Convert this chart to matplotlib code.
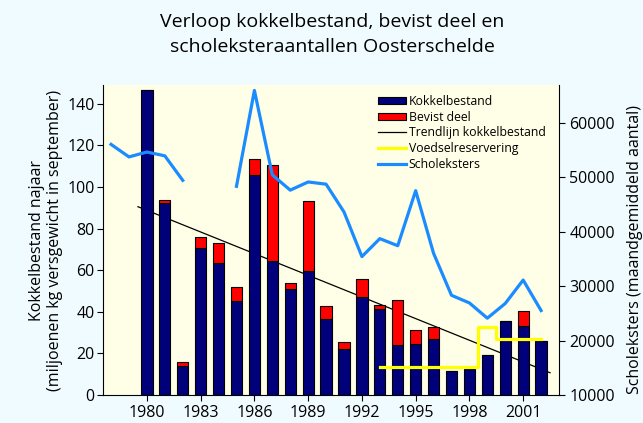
import matplotlib
matplotlib.use("Agg")
import matplotlib.pyplot as plt
from matplotlib.patches import Patch
from matplotlib.lines import Line2D

plt.rcParams['font.family'] = ['Open Sans', 'DejaVu Sans']

years = list(range(1980, 2003))
kokkel = [146.6, 92.2, 14.1, 70.5, 63.5, 45.2, 105.8, 64.4, 51.0, 59.5, 36.5, 22.3,
          47.1, 41.2, 24.0, 24.5, 26.9, 11.5, 12.3, 19.2, 35.7, 33.2, 26.0]
bevist = [0.0, 1.6, 1.8, 5.3, 9.7, 6.7, 7.7, 46.2, 2.7, 33.9, 6.1, 3.0,
          8.5, 2.1, 21.8, 6.6, 5.6, 0.0, 0.0, 0.0, 0.0, 7.2, 0.0]

trend_years = [1979.5, 2002.5]
trend_values = [90.5, 10.7]

voedsel_years = list(range(1993, 2003))
voedsel_values = [13.3, 13.3, 13.3, 13.3, 13.3, 13.3, 32.8, 26.9, 26.9, 26.9]

schol_years1 = [1978, 1979, 1980, 1981, 1982]
schol_values1 = [56000, 53700, 54600, 53900, 49400]
schol_years2 = list(range(1985, 2003))
schol_values2 = [48300, 65900, 50400, 47600, 49100, 48700, 43600, 35400, 38700, 37400,
                 47500, 36000, 28300, 26900, 24100, 26800, 31100, 25500]

xticks = [1980, 1983, 1986, 1989, 1992, 1995, 1998, 2001]
left_ticks = [0, 20, 40, 60, 80, 100, 120, 140]
right_ticks = [10000, 20000, 30000, 40000, 50000, 60000]

navy = '#00007a'
red = '#ff0000'
yellow = '#ffff00'
lblue = '#1a8cff'
fig_bg = '#f0fbff'
ax_bg = '#ffffe8'

fig = plt.figure(figsize=(6.43, 4.23), dpi=100, facecolor=fig_bg)
ax = fig.add_axes([103/643, 1-395/423, (559-103)/643, (395-85)/423])
ax.set_facecolor(ax_bg)

ax.plot(trend_years, trend_values, color='black', lw=0.9, zorder=1)
ax.bar(years, kokkel, width=0.63, color=navy, edgecolor='black', lw=0.8, zorder=2)
ax.bar(years, bevist, bottom=kokkel, width=0.63, color=red, edgecolor='black', lw=0.8, zorder=2)
ax.plot(voedsel_years, voedsel_values, color=yellow, lw=2.3, drawstyle='steps-mid', zorder=3)

ax.set_xlim(1977.55, 2003.0)
ax.set_ylim(0, 149)
ax.set_xticks(xticks)
ax.set_yticks(left_ticks)
ax.tick_params(axis='both', labelsize=11.5, length=4, width=0.8, direction='out', colors='black')
ax.tick_params(axis='x', pad=3)
ax.tick_params(axis='y', pad=2)
ax.spines['top'].set_visible(False)
ax.spines['right'].set_visible(False)

ax2 = ax.twinx()
ax2.patch.set_visible(False)
ax2.plot(schol_years1, schol_values1, color=lblue, lw=2.3, zorder=4)
ax2.plot(schol_years2, schol_values2, color=lblue, lw=2.3, zorder=4)
ax2.set_ylim(10000, 66900)
ax2.set_yticks(right_ticks)
ax2.tick_params(axis='y', labelsize=11.5, length=4, width=0.8, direction='out')
ax2.spines['top'].set_visible(False)
ax2.spines['left'].set_visible(False)
ax2.spines['bottom'].set_visible(False)

handles = [
    Patch(facecolor=navy, edgecolor='black', lw=0.8, label='Kokkelbestand'),
    Patch(facecolor=red, edgecolor='black', lw=0.8, label='Bevist deel'),
    Line2D([], [], color='black', lw=0.9, label='Trendlijn kokkelbestand'),
    Line2D([], [], color=yellow, lw=2.3, label='Voedselreservering'),
    Line2D([], [], color=lblue, lw=2.3, label='Scholeksters'),
]
ax2.legend(handles=handles, loc='upper left', bbox_to_anchor=(0.585, 0.995), frameon=False,
           fontsize=8.8, handlelength=2.3, handleheight=0.55, handletextpad=0.2,
           labelspacing=0.22, borderaxespad=0.3)

fig.text(332/643, 1-22/423, 'Verloop kokkelbestand, bevist deel en', ha='center', va='center', fontsize=14)
fig.text(332/643, 1-47/423, 'scholeksteraantallen Oosterschelde', ha='center', va='center', fontsize=14)

fig.text(46/643, 1-240/423, 'Kokkelbestand najaar\n(miljoenen kg versgewicht in september)',
         ha='center', va='center', rotation=90, fontsize=11.5, linespacing=1.2)
fig.text(635/643, 1-250/423, 'Scholeksters (maandgemiddeld aantal)',
         ha='center', va='center', rotation=90, fontsize=11.5)

fig.savefig('out.png', dpi=100, facecolor=fig_bg)
